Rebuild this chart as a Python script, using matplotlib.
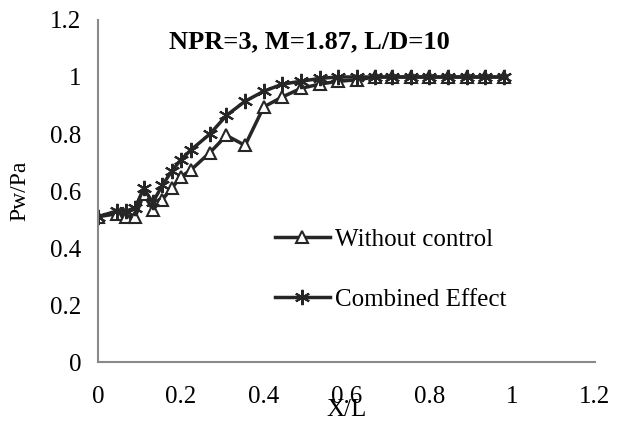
import matplotlib
matplotlib.use("Agg")
from matplotlib import pyplot as plt

# X/L stations and wall pressure ratio
x_over_l = [0, 0.045, 0.067, 0.09, 0.11, 0.132, 0.155, 0.178, 0.2, 0.225,
            0.27, 0.31, 0.355, 0.4, 0.445, 0.49, 0.535, 0.58, 0.625, 0.67,
            0.71, 0.755, 0.8, 0.845, 0.89, 0.935, 0.98]
without_control = [0.51, 0.52, 0.51, 0.51, 0.59, 0.535, 0.57, 0.61, 0.65, 0.675,
                   0.735, 0.795, 0.76, 0.895, 0.93, 0.96, 0.975, 0.985, 0.99, 1.0,
                   1.0, 1.0, 1.0, 1.0, 1.0, 1.0, 1.0]
combined_effect = [0.51, 0.53, 0.53, 0.54, 0.61, 0.56, 0.62, 0.67, 0.71, 0.745,
                   0.80, 0.865, 0.915, 0.95, 0.975, 0.985, 0.995, 1.0, 1.0, 1.0,
                   1.0, 1.0, 1.0, 1.0, 1.0, 1.0, 1.0]

x_ticks = [0, 0.2, 0.4, 0.6, 0.8, 1, 1.2]
y_ticks = [0, 0.2, 0.4, 0.6, 0.8, 1, 1.2]
tick_labels = ["0", "0.2", "0.4", "0.6", "0.8", "1", "1.2"]

plt.rcParams["font.family"] = ["Liberation Serif", "DejaVu Serif"]
plt.rcParams["font.size"] = 18

fig = plt.figure(figsize=(6.21, 4.25), dpi=100)
ax = fig.add_axes([0.158, 0.148, 0.800, 0.805])

ink = "#262626"
ax.plot(x_over_l, without_control, color=ink, lw=2.5, marker="^",
        markersize=9, markerfacecolor="white", markeredgecolor=ink,
        markeredgewidth=1.5, label="Without control")
ax.plot(x_over_l, combined_effect, color=ink, lw=2.5, marker=(6, 2, 0),
        markersize=11, markeredgecolor=ink, markeredgewidth=1.5,
        label="Combined Effect")

ax.set_xlim(0, 1.2)
ax.set_ylim(0, 1.2)
ax.set_xticks(x_ticks)
ax.set_xticklabels(tick_labels)
ax.set_yticks(y_ticks)
ax.set_yticklabels(tick_labels)
ax.tick_params(axis="both", length=0)
ax.tick_params(axis="x", pad=17)
ax.tick_params(axis="y", pad=12)

for side in ["top", "right"]:
    ax.spines[side].set_visible(False)
for side in ["left", "bottom"]:
    ax.spines[side].set_color("#898989")
    ax.spines[side].set_linewidth(1.5)

ax.set_xlabel("X/L", labelpad=-6)
ax.set_ylabel("Pw/Pa", fontsize=17, labelpad=14)
ax.text(0.51, 1.125, "NPR=3, M=1.87, L/D=10", ha="center", va="center",
        fontsize=19, fontweight="bold")

ax.legend(loc="center left", bbox_to_anchor=(0.31, 0.27), frameon=False,
          handlelength=2.2, handletextpad=0.2, labelspacing=1.5)

fig.savefig("out.png", dpi=100)
